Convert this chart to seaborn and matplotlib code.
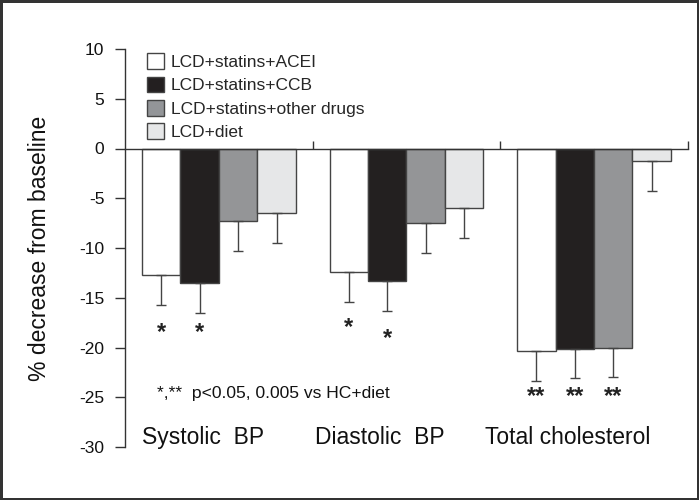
import numpy as np
import pandas as pd
import seaborn as sns
import matplotlib.pyplot as plt
from matplotlib.patches import Patch

measures = ["Systolic  BP", "Diastolic  BP", "Total cholesterol"]
groups = ["LCD+statins+ACEI", "LCD+statins+CCB", "LCD+statins+other drugs", "LCD+diet"]
acei = [-12.7, -12.4, -20.4]
ccb = [-13.5, -13.3, -20.2]
other = [-7.3, -7.5, -20.0]
diet = [-6.5, -6.0, -1.3]
acei_err = [3.0, 3.0, 3.0]
ccb_err = [3.0, 3.0, 2.9]
other_err = [3.0, 3.0, 3.0]
diet_err = [3.0, 3.0, 3.0]
stars = [["*", "*", "", ""], ["*", "*", "", ""], ["**", "**", "**", ""]]
star_y = [[-18.5, -18.5], [-18.0, -19.1], [-24.9, -24.9, -24.9]]
note = "*,**  p<0.05, 0.005 vs HC+diet"

colors = ["#ffffff", "#231f20", "#939598", "#e6e7e8"]

rows = []
for g, vals, errs in zip(groups, [acei, ccb, other, diet], [acei_err, ccb_err, other_err, diet_err]):
    for m, v, e in zip(measures, vals, errs):
        rows.append({"measure": m, "group": g, "value": v, "err": e})
df = pd.DataFrame(rows)

sns.set_style("white")
plt.rcParams["font.family"] = ["Liberation Sans", "DejaVu Sans"]
plt.rcParams["axes.unicode_minus"] = False

fig = plt.figure(figsize=(6.99, 5.0), dpi=100, edgecolor="#333333", linewidth=2.5)
ax = fig.add_axes([0.179, 0.106, 0.805, 0.796])

sns.barplot(data=df, x="measure", y="value", hue="group", order=measures, hue_order=groups,
            palette=colors, width=0.82, errorbar=None, edgecolor="#444444", linewidth=1.0,
            legend=False, ax=ax)

# one-sided error bars below each bar
for i, g in enumerate(groups):
    sub = df[df.group == g].set_index("measure").loc[measures]
    bars = ax.containers[i]
    xs = [b.get_x() + b.get_width() / 2 for b in bars]
    ax.errorbar(xs, sub["value"], yerr=[sub["err"], np.zeros(len(xs))], fmt="none",
                ecolor="#444444", elinewidth=1.0, capsize=3.6, capthick=1.0, zorder=1)
    for j, x in enumerate(xs):
        if stars[j][i]:
            ax.text(x, star_y[j][i], stars[j][i], ha="center", va="center",
                    fontsize=17, fontweight="bold", color="#222222")

ax.set_xlim(-0.5, 2.5)
ax.set_ylim(-30, 10)
ax.set_yticks(np.arange(-30, 11, 5))
ax.set_xticks([0.5, 1.5, 2.5])
ax.set_xticklabels([])
ax.spines["top"].set_visible(False)
ax.spines["right"].set_visible(False)
ax.spines["bottom"].set_position(("data", 0))
for s in ["left", "bottom"]:
    ax.spines[s].set_color("#333333")
    ax.spines[s].set_linewidth(1.0)
ax.tick_params(axis="y", direction="out", length=7, width=1, color="#333333",
               labelsize=12.5, pad=8, left=True, labelcolor="#111111")
ax.tick_params(axis="x", direction="in", length=6, width=1, color="#333333", bottom=True)
ax.set_xlabel("")
ax.set_ylabel("% decrease from baseline", fontsize=16.5, labelpad=20, color="#111111")

label_x = [-0.085, 0.856, 1.862]
for x, m in zip(label_x, measures):
    ax.text(x, -29, m, ha="center", va="center", fontsize=16.5, color="#111111")

ax.text(-0.33, -24.6, note, ha="left", va="center", fontsize=12.6, color="#111111")

handles = [Patch(facecolor=c, edgecolor="#444444", linewidth=1.0) for c in colors]
ax.legend(handles, groups, loc="upper left", bbox_to_anchor=(0.02, 1.015), frameon=False,
          fontsize=12.5, handlelength=1.0, handleheight=1.0, handletextpad=0.4,
          labelspacing=0.38, borderaxespad=0.2)

fig.savefig("out.png", dpi=100, edgecolor=fig.get_edgecolor())
